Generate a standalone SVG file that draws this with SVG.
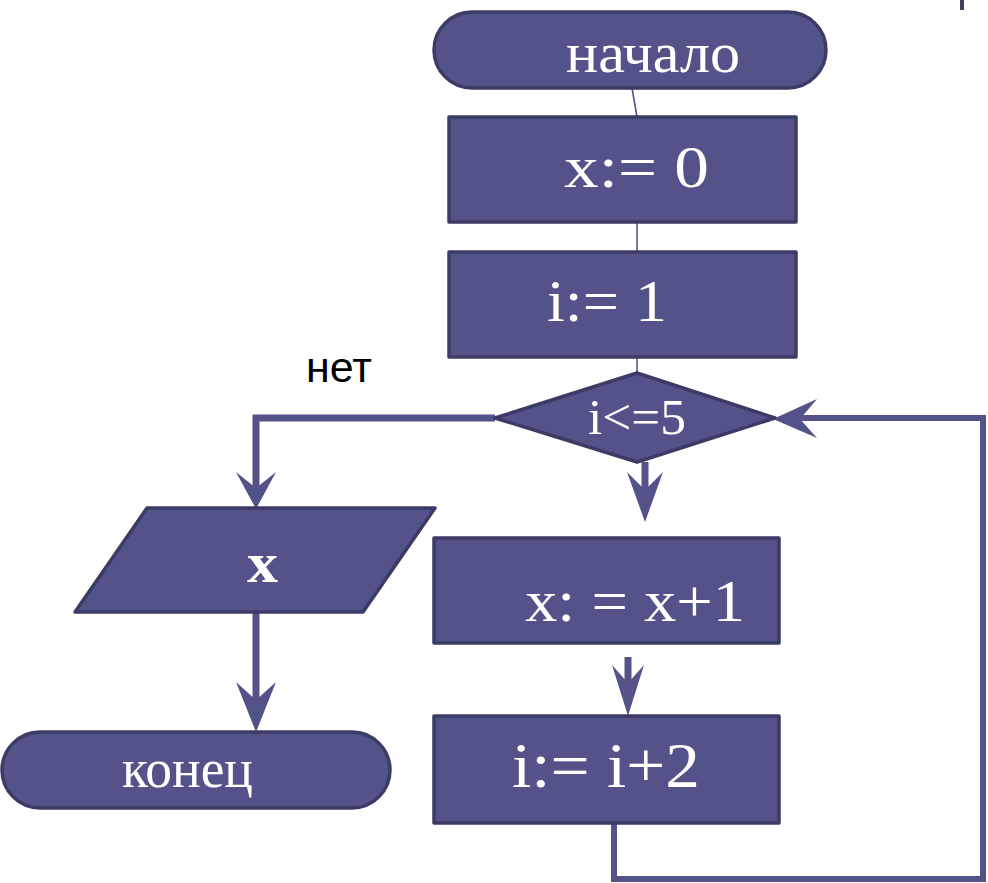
<svg xmlns="http://www.w3.org/2000/svg" width="988" height="883" viewBox="0 0 988 883">
<style>
.shape{fill:#535389;stroke:#3b3b66;stroke-width:3.5;stroke-linejoin:round}
.lbl{fill:#ffffff;font-family:"Liberation Serif","DejaVu Serif",serif}
.thin{stroke:#535389;stroke-width:1.6;fill:none}
.thick{stroke:#535389;stroke-width:7;fill:none;stroke-linejoin:miter}
.loop{stroke:#535389;stroke-width:6;fill:none;stroke-linejoin:miter}
.head{fill:#535389}
</style>
<rect x="960" y="0" width="4" height="10" fill="#3f3f5f"/>
<g id="connectors">
<line class="thin" x1="632" y1="88" x2="637" y2="117"/>
<line class="thin" x1="637" y1="222" x2="637" y2="252"/>
<line class="thin" x1="637" y1="357" x2="637" y2="373"/>
<polyline class="thick" points="495,418 256,418 256,495"/>
<polygon class="head" points="256,509 236,472 256,488 276,472"/>
<line class="thick" x1="645" y1="462" x2="645" y2="500"/>
<polygon class="head" points="645,522 627,472 645,490 663,472"/>
<line class="thick" x1="628" y1="657" x2="628" y2="700"/>
<polygon class="head" points="628,716 612,665 628,683 644,665"/>
<line class="thick" x1="256" y1="613" x2="256" y2="715"/>
<polygon class="head" points="256,732 236,682 256,700 276,682"/>
<polyline class="loop" points="614,823 614,879 983,879 983,418 800,418"/>
<polygon class="head" points="773,419 817,399 800,419 817,438"/>
</g>
<g id="start">
<rect class="shape" x="434" y="12" width="392" height="76" rx="38" ry="38"/>
<text class="lbl" x="566" y="72" font-size="58" textLength="174" lengthAdjust="spacingAndGlyphs">начало</text>
</g>
<g id="x0">
<rect class="shape" x="449" y="117" width="347" height="105"/>
<text class="lbl" x="564" y="187" font-size="60" textLength="145" lengthAdjust="spacingAndGlyphs">x:= 0</text>
</g>
<g id="i1">
<rect class="shape" x="449" y="252" width="347" height="105"/>
<text class="lbl" x="547" y="321" font-size="60" textLength="120" lengthAdjust="spacingAndGlyphs">i:= 1</text>
</g>
<g id="cond">
<polygon class="shape" points="495,418 637,373 775,418 637,462"/>
<text class="lbl" x="588" y="434" font-size="50" textLength="98" lengthAdjust="spacingAndGlyphs">i&lt;=5</text>
</g>
<text x="306" y="382" font-family="Liberation Sans, Arial, sans-serif" font-size="42" fill="#000000" textLength="66" lengthAdjust="spacingAndGlyphs">нет</text>
<g id="output">
<polygon class="shape" points="147,508 435,508 363,612 75,612"/>
<text class="lbl" x="247" y="582" font-size="56" font-weight="bold" textLength="31" lengthAdjust="spacingAndGlyphs">x</text>
</g>
<g id="xinc">
<rect class="shape" x="434" y="538" width="345" height="105"/>
<text class="lbl" x="525" y="621" font-size="60" textLength="220" lengthAdjust="spacingAndGlyphs">x: = x+1</text>
</g>
<g id="iinc">
<rect class="shape" x="434" y="716" width="345" height="107"/>
<text class="lbl" x="512" y="787" font-size="64" textLength="188" lengthAdjust="spacingAndGlyphs">i:= i+2</text>
</g>
<g id="end">
<rect class="shape" x="2" y="732" width="388" height="76" rx="38" ry="38"/>
<text class="lbl" x="122" y="787" font-size="54" textLength="131" lengthAdjust="spacingAndGlyphs">конец</text>
</g>
</svg>
